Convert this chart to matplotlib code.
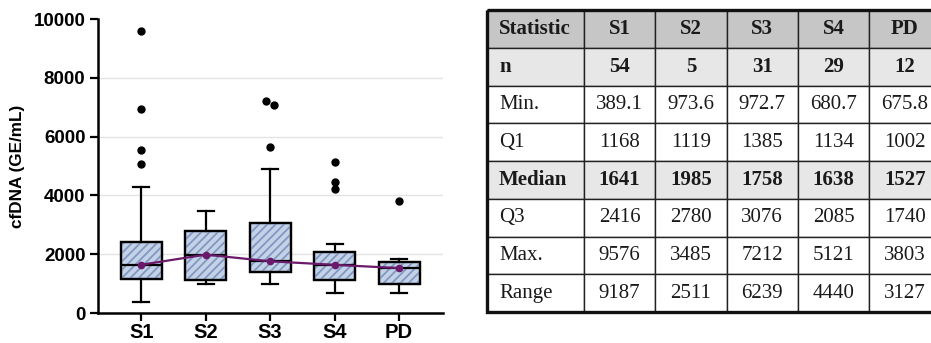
import matplotlib
matplotlib.use("Agg")
import matplotlib.pyplot as plt
from matplotlib.patches import PathPatch, Rectangle

groups = ["S1", "S2", "S3", "S4", "PD"]
q1 = [1168, 1119, 1385, 1134, 1002]
medians = [1641, 1985, 1758, 1638, 1527]
q3 = [2416, 2780, 3076, 2085, 1740]
whisker_low = [389.1, 973.6, 972.7, 680.7, 675.8]
whisker_high = [4270, 3485, 4900, 2350, 1830]
outliers = [
    [9576, 6930, 5540, 5070],
    [],
    [7212, 7090, 5650],
    [5121, 4460, 4220],
    [3803],
]
# horizontal nudge of overlapping outlier dots (as drawn in the figure)
outlier_nudge = [
    [0, 0, 0, 0],
    [],
    [-0.065, 0.065, 0],
    [0, 0, 0],
    [0],
]

table_header = ["Statistic", "S1", "S2", "S3", "S4", "PD"]
table_rows = [
    ["n", "54", "5", "31", "29", "12"],
    ["Min.", "389.1", "973.6", "972.7", "680.7", "675.8"],
    ["Q1", "1168", "1119", "1385", "1134", "1002"],
    ["Median", "1641", "1985", "1758", "1638", "1527"],
    ["Q3", "2416", "2780", "3076", "2085", "1740"],
    ["Max.", "9576", "3485", "7212", "5121", "3803"],
    ["Range", "9187", "2511", "6239", "4440", "3127"],
]
bold_rows = ["n", "Median"]

W, H = 931, 343
fig = plt.figure(figsize=(W / 100, H / 100), dpi=100)
plt.rcParams["hatch.linewidth"] = 1.3

# ---- box plot ----
ax = fig.add_axes([98 / W, (H - 313) / H, (443 - 98) / W, (313 - 19) / H])
stats = []
for i, g in enumerate(groups):
    stats.append(dict(label=g, q1=q1[i], med=medians[i], q3=q3[i],
                      whislo=whisker_low[i], whishi=whisker_high[i],
                      fliers=outliers[i]))
pos = list(range(1, len(groups) + 1))
bp = ax.bxp(stats, positions=pos, widths=0.64, capwidths=0.25, patch_artist=True,
            showfliers=False,
            boxprops=dict(facecolor="#c4d2e8", edgecolor="black", linewidth=1.6),
            medianprops=dict(color="black", linewidth=1.6),
            whiskerprops=dict(color="black", linewidth=1.6),
            capprops=dict(color="black", linewidth=1.6))
for b in bp["boxes"]:
    path = b.get_path().transformed(b.get_patch_transform())
    ax.add_patch(PathPatch(path, facecolor="none", edgecolor="#8198c0",
                           hatch="////", linewidth=0, zorder=2.05,
                           transform=b.get_transform()))
    ax.add_patch(PathPatch(path, facecolor="none", edgecolor="black",
                           linewidth=1.6, zorder=2.1, transform=b.get_transform()))
for m in bp["medians"]:
    m.set_zorder(2.2)

for i, p in enumerate(pos):
    xs = [p + d for d in outlier_nudge[i]]
    ax.plot(xs, outliers[i], linestyle="none", marker="o", color="black",
            markersize=5, zorder=3)

ax.plot(pos, medians, color="#6b1a6b", linewidth=1.6, marker="o",
        markersize=4.5, zorder=3)

yt = [0, 2000, 4000, 6000, 8000, 10000]
for y in yt[1:-1]:
    ax.axhline(y, color="#e3e3e3", linewidth=1.0, zorder=0)
ax.set_ylim(0, 10000)
ax.set_xlim(0.33, 5.68)
ax.set_yticks(yt)
ax.set_yticklabels([str(v) for v in yt], fontsize=13.5, fontweight="bold",
                   family="Liberation Sans")
ax.set_xticks(pos)
ax.set_xticklabels(groups, fontsize=14.5, fontweight="bold",
                   family="Liberation Sans")
ax.tick_params(width=1.6, length=6, pad=3)
ax.tick_params(axis="x", pad=1.5)
ax.set_ylabel("cfDNA (GE/mL)", fontsize=12.3, fontweight="bold",
              family="Liberation Sans", labelpad=6)
for s in ["top", "right"]:
    ax.spines[s].set_visible(False)
for s in ["left", "bottom"]:
    ax.spines[s].set_linewidth(1.8)

# ---- statistics table ----
col_w = [97] + [71.3] * 5
row_h = (312 - 10) / 8
tx0, ty0 = 487, 10
tw = sum(col_w)
tab = fig.add_axes([tx0 / W, (H - 312) / H, tw / W, (312 - 10) / H])
tab.set_xlim(0, tw)
tab.set_ylim(8 * row_h, 0)
tab.axis("off")

all_rows = [table_header] + table_rows
for r, row in enumerate(all_rows):
    if r == 0:
        bg = "#c6c6c6"
    elif row[0] in bold_rows:
        bg = "#e7e7e7"
    else:
        bg = "white"
    x = 0
    for c, txt in enumerate(row):
        tab.add_patch(Rectangle((x, r * row_h), col_w[c], row_h, facecolor=bg,
                                edgecolor="#222222", linewidth=1.0))
        bold = r == 0 or row[0] in bold_rows
        if c == 0:
            tab.text(x + 12, (r + 0.5) * row_h, txt, ha="left", va="center",
                     family="Liberation Serif", fontsize=15,
                     fontweight="bold" if bold else "normal", color="#1a1a1a")
        else:
            tab.text(x + col_w[c] / 2, (r + 0.5) * row_h, txt, ha="center",
                     va="center", family="Liberation Serif", fontsize=15,
                     fontweight="bold" if bold else "normal", color="#1a1a1a")
        x += col_w[c]
tab.add_patch(Rectangle((0, 0), tw, 8 * row_h, facecolor="none",
                        edgecolor="#111111", linewidth=2.4, clip_on=False))

fig.savefig("out.png", dpi=100)
